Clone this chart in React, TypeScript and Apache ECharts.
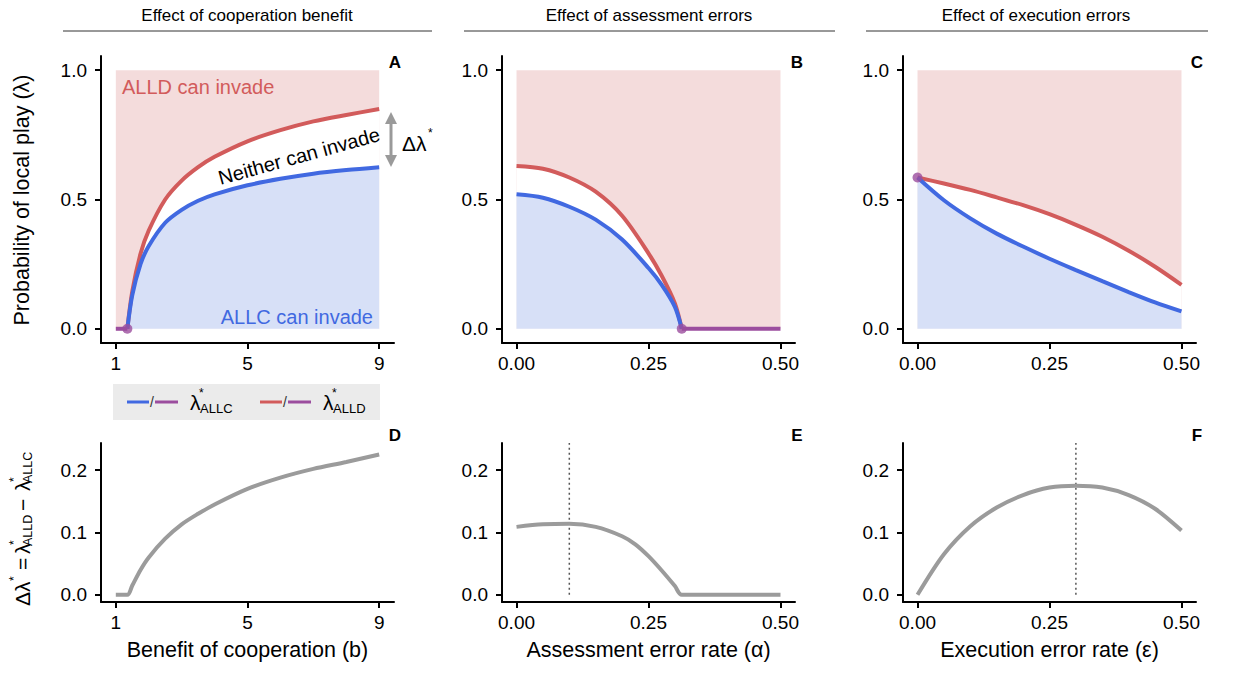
import React, { useEffect, useRef } from "react";
import * as echarts from "echarts";

// ---------- data ----------
const benefitA = [1.35, 1.5, 1.75, 2, 2.5, 3, 3.5, 4, 5, 6, 7, 8, 9];
const allcA = [0, 0.13, 0.25, 0.32, 0.41, 0.46, 0.495, 0.52, 0.555, 0.58, 0.6, 0.614, 0.625];
const alldA = [0, 0.145, 0.29, 0.38, 0.5, 0.573, 0.625, 0.665, 0.725, 0.768, 0.802, 0.827, 0.85];
const benefitD = [1, 1.35, 1.5, 1.75, 2, 2.5, 3, 3.5, 4, 5, 6, 7, 8, 9];
const deltaD = [0, 0, 0.015, 0.04, 0.06, 0.09, 0.113, 0.13, 0.145, 0.17, 0.188, 0.202, 0.213, 0.225];

const alphaB = [0, 0.05, 0.1, 0.15, 0.2, 0.25, 0.275, 0.3, 0.313];
const allcB = [0.52, 0.507, 0.472, 0.422, 0.345, 0.235, 0.17, 0.085, 0];
const alldB = [0.63, 0.619, 0.585, 0.53, 0.437, 0.292, 0.205, 0.098, 0];
const alphaE = [0, 0.05, 0.1, 0.15, 0.2, 0.225, 0.25, 0.275, 0.3, 0.313, 0.5];
const deltaE = [0.109, 0.113, 0.114, 0.109, 0.094, 0.081, 0.062, 0.039, 0.014, 0, 0];

const epsC = [0, 0.05, 0.1, 0.15, 0.2, 0.25, 0.3, 0.35, 0.4, 0.45, 0.5];
const alldC = [0.585, 0.562, 0.537, 0.508, 0.478, 0.443, 0.402, 0.356, 0.302, 0.24, 0.17];
const allcC = [0.585, 0.497, 0.427, 0.368, 0.318, 0.271, 0.227, 0.184, 0.142, 0.102, 0.067];
const deltaF = [0, 0.065, 0.11, 0.14, 0.16, 0.172, 0.175, 0.172, 0.16, 0.138, 0.103];

const thresholdA = [1.35, 0];
const thresholdB = [0.313, 0];
const startC = [0, 0.585];
const peakE = 0.1;
const peakF = 0.3;

const ticksBenefit = [1, 5, 9];
const ticksRate = [0, 0.25, 0.5];
const ticksLambda = [0, 0.5, 1];
const ticksDelta = [0, 0.1, 0.2];

const titles = ["Effect of cooperation benefit", "Effect of assessment errors", "Effect of execution errors"];
const xTitles = ["Benefit of cooperation (b)", "Assessment error rate (α)", "Execution error rate (ε)"];
const letters = ["A", "B", "C", "D", "E", "F"];

// ---------- style ----------
const FONT = '"Liberation Sans", Arial, Helvetica, sans-serif';
const RED = "#d25b5b";
const BLUE = "#4169e1";
const PURPLE = "#9b4d9e";
const PINK = "#f4dcdc";
const LIGHTBLUE = "#d7e0f7";
const GRAY = "#9b9b9b";

const colLeft = [101, 502, 903];
const colWidth = 293;
const topRow = { top: 56, height: 287 };
const botRow = { top: 443, height: 159 };

const zip = (xs: number[], ys: number[]) => xs.map((x, i) => [x, ys[i]]);

function xAxis(g: number, min: number, max: number, ticks: number[], digits: number) {
  return {
    type: "value", gridIndex: g, min, max,
    axisLine: { show: true, onZero: false, lineStyle: { color: "#000", width: 2 } },
    axisTick: { show: true, length: 6, customValues: ticks, lineStyle: { color: "#000", width: 2 } },
    axisLabel: { customValues: ticks, formatter: (v: number) => v.toFixed(digits), fontSize: 19, color: "#000", fontFamily: FONT, margin: 11 },
    splitLine: { show: false },
  };
}
function yAxis(g: number, min: number, max: number, ticks: number[]) {
  return {
    type: "value", gridIndex: g, min, max,
    axisLine: { show: true, onZero: false, lineStyle: { color: "#000", width: 2 } },
    axisTick: { show: true, length: 6, customValues: ticks, lineStyle: { color: "#000", width: 2 } },
    axisLabel: { customValues: ticks, formatter: (v: number) => v.toFixed(1), fontSize: 19, color: "#000", fontFamily: FONT, margin: 14 },
    splitLine: { show: false },
  };
}
function area(idx: number, data: number[][], color: string) {
  return {
    type: "line", xAxisIndex: idx, yAxisIndex: idx, data, smooth: 0.3,
    symbol: "none", lineStyle: { width: 0, opacity: 0 }, areaStyle: { color, opacity: 1 }, silent: true, z: 1,
  };
}
function line(idx: number, data: number[][], color: string, width = 4, type: any = "solid") {
  return {
    type: "line", xAxisIndex: idx, yAxisIndex: idx, data, smooth: type === "solid" ? 0.3 : false,
    symbol: "none", lineStyle: { width, color, type }, silent: true, z: 3,
  };
}
function dot(idx: number, p: number[]) {
  return { type: "scatter", xAxisIndex: idx, yAxisIndex: idx, data: [p], symbolSize: 10, itemStyle: { color: PURPLE }, silent: true, z: 5 };
}

const txt = (x: number, y: number, text: string, size: number, extra: any = {}) => ({
  type: "text", x, y, silent: true, z: 100,
  style: { text, fontSize: size, fontFamily: FONT, fill: "#000", align: "left", verticalAlign: "middle", ...extra },
});

function buildOption() {
  const grids = [];
  for (let r = 0; r < 2; r++) for (let c = 0; c < 3; c++) {
    const row = r === 0 ? topRow : botRow;
    grids.push({ left: colLeft[c], top: row.top, width: colWidth, height: row.height });
  }
  const xAxes = [
    xAxis(0, 0.55, 9.45, ticksBenefit, 0), xAxis(1, -0.0275, 0.5275, ticksRate, 2), xAxis(2, -0.0275, 0.5275, ticksRate, 2),
    xAxis(3, 0.55, 9.45, ticksBenefit, 0), xAxis(4, -0.0275, 0.5275, ticksRate, 2), xAxis(5, -0.0275, 0.5275, ticksRate, 2),
  ];
  const yAxes = [
    yAxis(0, -0.055, 1.055, ticksLambda), yAxis(1, -0.055, 1.055, ticksLambda), yAxis(2, -0.055, 1.055, ticksLambda),
    yAxis(3, -0.0115, 0.2435, ticksDelta), yAxis(4, -0.0115, 0.2435, ticksDelta), yAxis(5, -0.0115, 0.2435, ticksDelta),
  ];
  const series: any[] = [
    // A
    area(0, [[1, 1], [9, 1]], PINK),
    area(0, zip(benefitA, alldA), "#ffffff"),
    area(0, zip(benefitA, allcA), LIGHTBLUE),
    line(0, zip(benefitA, alldA), RED),
    line(0, zip(benefitA, allcA), BLUE),
    line(0, [[1, 0], thresholdA], PURPLE),
    dot(0, thresholdA),
    // B
    area(1, [[0, 1], [0.5, 1]], PINK),
    area(1, zip(alphaB, alldB), "#ffffff"),
    area(1, zip(alphaB, allcB), LIGHTBLUE),
    line(1, zip(alphaB, alldB), RED),
    line(1, zip(alphaB, allcB), BLUE),
    line(1, [thresholdB, [0.5, 0]], PURPLE),
    dot(1, thresholdB),
    // C
    area(2, [[0, 1], [0.5, 1]], PINK),
    area(2, zip(epsC, alldC), "#ffffff"),
    area(2, zip(epsC, allcC), LIGHTBLUE),
    line(2, zip(epsC, alldC), RED),
    line(2, zip(epsC, allcC), BLUE),
    dot(2, startC),
    // D, E, F
    line(3, zip(benefitD, deltaD), GRAY),
    line(4, [[peakE, 0], [peakE, 0.2435]], "#555", 1.5, [2, 3]),
    line(4, zip(alphaE, deltaE), GRAY),
    line(5, [[peakF, 0], [peakF, 0.2435]], "#555", 1.5, [2, 3]),
    line(5, zip(epsC, deltaF), GRAY),
  ];

  const graphic: any[] = [];
  const titleX = [247, 649, 1036];
  const lineSpans = [[63, 432], [464, 835], [866, 1208]];
  titles.forEach((t, i) => {
    graphic.push(txt(titleX[i], 15, t, 17, { align: "center" }));
    graphic.push({ type: "line", silent: true, shape: { x1: lineSpans[i][0], y1: 31, x2: lineSpans[i][1], y2: 31 }, style: { stroke: "#333", lineWidth: 1 } });
  });
  xTitles.forEach((t, i) => graphic.push(txt(colLeft[i] + colWidth / 2, 650, t, 21.5, { align: "center" })));
  const letterX = [395, 797, 1197];
  letters.forEach((l, i) => graphic.push(txt(letterX[i % 3], i < 3 ? 62 : 435, l, 17, { align: "center", fontWeight: "bold" })));

  // y-axis titles
  graphic.push({ ...txt(22, 200, "Probability of local play (λ)", 21.5, { align: "center" }), rotation: Math.PI / 2 });
  graphic.push({
    type: "group", x: 22, y: 522, rotation: Math.PI / 2, silent: true, z: 100,
    children: [
      txt(-84, 0, "Δλ", 21),
      txt(-59, -8, "*", 12),
      txt(-48, 0, "=", 21),
      txt(-32, 0, "λ", 21),
      txt(-23, -8, "*", 12),
      txt(-24, 6, "ALLD", 12.5),
      txt(11, 0, "−", 21),
      txt(31, 0, "λ", 21),
      txt(40, -8, "*", 12),
      txt(39, 6, "ALLC", 12.5),
    ],
  });

  // legend
  graphic.push({ type: "rect", silent: true, z: 50, shape: { x: 113, y: 384, width: 267, height: 36 }, style: { fill: "#ebebeb" } });
  const legendItems = [
    { x: 127, color: BLUE, sub: "ALLC" },
    { x: 260, color: RED, sub: "ALLD" },
  ];
  legendItems.forEach((it) => {
    graphic.push({ type: "line", silent: true, z: 100, shape: { x1: it.x, y1: 402, x2: it.x + 22, y2: 402 }, style: { stroke: it.color, lineWidth: 3 } });
    graphic.push(txt(it.x + 25, 402, "/", 14, { align: "center", fill: "#333" }));
    graphic.push({ type: "line", silent: true, z: 100, shape: { x1: it.x + 28, y1: 402, x2: it.x + 51, y2: 402 }, style: { stroke: PURPLE, lineWidth: 3 } });
    graphic.push(txt(it.x + 63, 402, "λ", 21));
    graphic.push(txt(it.x + 72, 393, "*", 12));
    graphic.push(txt(it.x + 73, 408, it.sub, 13));
  });

  // panel A annotations
  graphic.push(txt(122, 87, "ALLD can invade", 20, { fill: RED }));
  graphic.push(txt(373, 317, "ALLC can invade", 20, { fill: BLUE, align: "right" }));
  graphic.push({ ...txt(299, 156, "Neither can invade", 20, { align: "center" }), rotation: 0.27 });
  graphic.push({ type: "line", silent: true, z: 100, shape: { x1: 391, y1: 120, x2: 391, y2: 159 }, style: { stroke: "#9a9a9a", lineWidth: 3 } });
  graphic.push({ type: "polygon", silent: true, z: 100, shape: { points: [[391, 112], [385, 124], [397, 124]] }, style: { fill: "#9a9a9a" } });
  graphic.push({ type: "polygon", silent: true, z: 100, shape: { points: [[391, 167], [385, 155], [397, 155]] }, style: { fill: "#9a9a9a" } });
  graphic.push(txt(402, 143, "Δλ", 21));
  graphic.push(txt(428, 133, "*", 12));

  return { animation: false, backgroundColor: "#ffffff", grid: grids, xAxis: xAxes, yAxis: yAxes, series, graphic };
}

export default function App() {
  const ref = useRef<HTMLDivElement>(null);
  useEffect(() => {
    const chart = echarts.init(ref.current as HTMLDivElement, null, { renderer: "svg" });
    chart.setOption(buildOption() as any);
    return () => chart.dispose();
  }, []);
  return <div ref={ref} style={{ position: "fixed", left: 0, top: 0, width: 1233, height: 675, background: "#fff" }} />;
}
